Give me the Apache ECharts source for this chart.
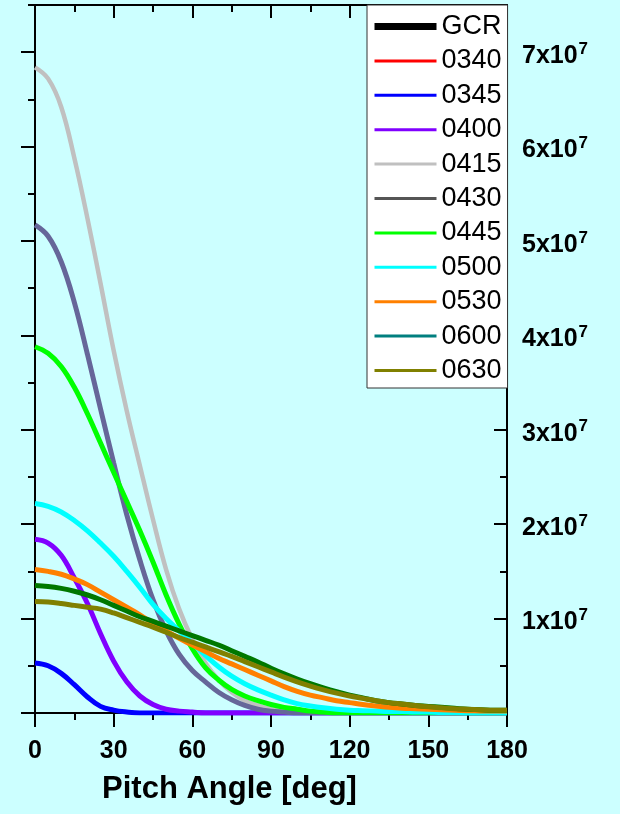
<!DOCTYPE html>
<html>
<head>
<meta charset="utf-8">
<script src="https://cdn.jsdelivr.net/npm/echarts@6/dist/echarts.min.js"></script>
<style>
  html, body { margin: 0; padding: 0; background: #ccffff; }
  #chart { width: 620px; height: 814px; }
</style>
</head>
<body>
<div id="chart"></div>
<script>
// pitch angle grid (deg)
var angles = [0, 5, 10, 15, 20, 25, 30, 35, 40, 45, 50, 55, 60, 65, 70, 75, 80, 85, 90,
  95, 100, 105, 110, 115, 120, 125, 130, 135, 140, 145, 150, 155, 160, 165, 170, 175, 180];

// values in units of 10^7
var sGCR = [];
var s0340 = [];
var s0345 = [0.53, 0.5, 0.42, 0.3, 0.17, 0.07, 0.03, 0.01, 0, 0, 0, 0, 0, 0, 0, 0, 0, 0, 0,
  0, 0, 0, 0, 0, 0, 0, 0, 0, 0, 0, 0, 0, 0, 0, 0, 0, 0];
var s0400 = [1.84, 1.8, 1.67, 1.43, 1.16, 0.84, 0.55, 0.33, 0.18, 0.09, 0.04, 0.02, 0.01, 0, 0, 0, 0, 0, 0,
  0, 0, 0, 0, 0, 0, 0, 0, 0, 0, 0, 0, 0, 0, 0, 0, 0, 0];
var s0415 = [6.84, 6.72, 6.42, 5.88, 5.24, 4.55, 3.84, 3.2, 2.62, 2.05, 1.52, 1.1, 0.78, 0.53, 0.35, 0.22, 0.13, 0.08, 0.04,
  0.02, 0.01, 0, 0, 0, 0, 0, 0, 0, 0, 0, 0, 0, 0, 0, 0, 0, 0];
var s0430 = [5.17, 5.05, 4.78, 4.35, 3.8, 3.22, 2.65, 2.1, 1.62, 1.2, 0.87, 0.62, 0.45, 0.33, 0.22, 0.14, 0.08, 0.04, 0.02,
  0.01, 0, 0, 0, 0, 0, 0, 0, 0, 0, 0, 0, 0, 0, 0, 0, 0, 0];
var s0445 = [3.88, 3.81, 3.67, 3.45, 3.17, 2.86, 2.55, 2.24, 1.93, 1.6, 1.25, 0.94, 0.68, 0.48, 0.35, 0.25, 0.18, 0.13, 0.09,
  0.06, 0.04, 0.02, 0.01, 0, 0, 0, 0, 0, 0, 0, 0, 0, 0, 0, 0, 0, 0];
var s0500 = [2.22, 2.19, 2.13, 2.04, 1.93, 1.8, 1.66, 1.5, 1.33, 1.15, 1.0, 0.87, 0.74, 0.61, 0.49, 0.39, 0.31, 0.245, 0.19,
  0.14, 0.1, 0.075, 0.055, 0.04, 0.03, 0.025, 0.02, 0.015, 0.015, 0.01, 0.01, 0.005, 0.005, 0, 0, 0, 0];
var s0530 = [1.52, 1.5, 1.47, 1.42, 1.36, 1.28, 1.2, 1.12, 1.04, 0.95, 0.87, 0.79, 0.72, 0.65, 0.58, 0.52, 0.46, 0.4, 0.34,
  0.28, 0.23, 0.19, 0.16, 0.13, 0.11, 0.09, 0.075, 0.06, 0.05, 0.045, 0.04, 0.035, 0.03, 0.025, 0.022, 0.02, 0.02];
var s0600 = [1.35, 1.34, 1.32, 1.29, 1.25, 1.2, 1.14, 1.08, 1.02, 0.97, 0.92, 0.87, 0.82, 0.77, 0.72, 0.66, 0.6, 0.54, 0.475,
  0.415, 0.36, 0.31, 0.265, 0.225, 0.19, 0.16, 0.13, 0.11, 0.095, 0.08, 0.07, 0.06, 0.05, 0.04, 0.035, 0.03, 0.03];
var s0630 = [1.18, 1.175, 1.16, 1.14, 1.12, 1.1, 1.06, 1.01, 0.96, 0.91, 0.855, 0.8, 0.75, 0.7, 0.65, 0.6, 0.545, 0.49, 0.435,
  0.38, 0.33, 0.285, 0.245, 0.21, 0.18, 0.155, 0.13, 0.11, 0.095, 0.08, 0.065, 0.055, 0.045, 0.04, 0.035, 0.03, 0.03];

var names = ['GCR', '0340', '0345', '0400', '0415', '0430', '0445', '0500', '0530', '0600', '0630'];
var values = [sGCR, s0340, s0345, s0400, s0415, s0430, s0445, s0500, s0530, s0600, s0630];

// tick positions
var xTicks = [0, 30, 60, 90, 120, 150, 180];
var yMajor = [0, 1, 2, 3, 4, 5, 6, 7];
var yLabels = [1, 2, 3, 4, 5, 6, 7];

var lineColors = ['#000000', '#ff0000', '#0000ff', '#8000ff', '#c0c0c0', '#666699',
  '#00ff00', '#00ffff', '#ff8000', '#007800', '#808000'];
var legendColors = ['#000000', '#ff0000', '#0000ff', '#8000ff', '#c0c0c0', '#555555',
  '#00ff00', '#00ffff', '#ff8000', '#007f7f', '#808000'];

var FONT = '"Liberation Sans", Arial, Helvetica, sans-serif';
var tickStyle = { color: '#000', width: 2 };

var chart = echarts.init(document.getElementById('chart'));

var series = names.map(function (n, k) {
  return {
    name: n,
    type: 'line',
    xAxisIndex: 0,
    yAxisIndex: 0,
    symbol: 'none',
    showSymbol: false,
    smooth: 0.4,
    lineStyle: { color: lineColors[k], width: n === '0415' ? 4.5 : 5 },
    itemStyle: { color: lineColors[k] },
    emphasis: { disabled: true },
    data: values[k].map(function (v, i) { return [angles[i], v]; })
  };
});

var option = {
  backgroundColor: '#ccffff',
  animation: false,
  grid: { left: 35, right: 113, top: 5, bottom: 101, outerBoundsMode: 'none' },
  legend: {
    orient: 'vertical',
    left: 367,
    top: 5,
    backgroundColor: '#ffffff',
    borderColor: '#333333',
    borderWidth: 1,
    borderRadius: 0,
    padding: [8, 6, 4, 4],
    itemWidth: 62,
    itemHeight: 8,
    itemGap: 7.4,
    selectedMode: false,
    itemStyle: { opacity: 0 },
    textStyle: { fontSize: 27, color: '#000', fontFamily: FONT },
    data: names.map(function (n, k) {
      return { name: n, lineStyle: { color: legendColors[k], width: k === 0 ? 7 : 3 } };
    })
  },
  xAxis: [{
    type: 'value', position: 'bottom', min: 0, max: 180, interval: 30,
    axisLine: { onZero: false, lineStyle: tickStyle },
    axisTick: { inside: false, length: 14, lineStyle: tickStyle },
    minorTick: { show: true, splitNumber: 2, length: 7, lineStyle: tickStyle },
    splitLine: { show: false },
    axisLabel: {
      margin: 26, fontSize: 25, fontWeight: 'bold', color: '#000', fontFamily: FONT,
      showMinLabel: true, showMaxLabel: true, customValues: xTicks
    },
    name: 'Pitch Angle [deg]',
    nameLocation: 'middle',
    nameGap: 61,
    nameTextStyle: { fontSize: 31, fontWeight: 'bold', color: '#000', fontFamily: FONT, padding: [0, 83, 0, 0] }
  }, {
    type: 'value', position: 'top', min: 0, max: 180, interval: 30,
    axisLine: { onZero: false, lineStyle: tickStyle },
    axisTick: { inside: true, length: 13, lineStyle: tickStyle },
    minorTick: { show: true, splitNumber: 2, length: 7, lineStyle: tickStyle },
    splitLine: { show: false },
    axisLabel: { show: false }
  }],
  yAxis: [{
    type: 'value', position: 'left', min: 0, max: 7.5, interval: 0.5,
    axisLine: { show: true, onZero: false, lineStyle: tickStyle },
    axisTick: { show: true, inside: false, length: 7, lineStyle: tickStyle },
    splitLine: { show: false },
    axisLabel: { show: false }
  }, {
    type: 'value', position: 'left', min: 0, max: 7.5,
    axisLine: { show: false, onZero: false },
    axisTick: { show: true, inside: false, length: 14, lineStyle: tickStyle, customValues: yMajor },
    splitLine: { show: false },
    axisLabel: { show: false }
  }, {
    type: 'value', position: 'right', min: 0, max: 7.5, interval: 0.5,
    axisLine: { show: true, onZero: false, lineStyle: tickStyle },
    axisTick: { show: true, inside: true, length: 7, lineStyle: tickStyle },
    splitLine: { show: false },
    axisLabel: { show: false }
  }, {
    type: 'value', position: 'right', min: 0, max: 7.5,
    axisLine: { show: false, onZero: false },
    axisTick: { show: true, inside: true, length: 13, lineStyle: tickStyle, customValues: yMajor },
    splitLine: { show: false },
    axisLabel: {
      show: true,
      margin: 15,
      padding: [5, 0, 0, 0],
      customValues: yLabels,
      formatter: function (v) { return '{m|' + v + 'x10}{s|7}'; },
      rich: {
        m: { fontSize: 25, fontWeight: 'bold', color: '#000', fontFamily: FONT, verticalAlign: 'bottom' },
        s: { fontSize: 17, fontWeight: 'bold', color: '#000', fontFamily: FONT, verticalAlign: 'top', padding: [0, 0, 11, 1] }
      }
    }
  }],
  series: series
};

chart.setOption(option);
</script>
</body>
</html>
